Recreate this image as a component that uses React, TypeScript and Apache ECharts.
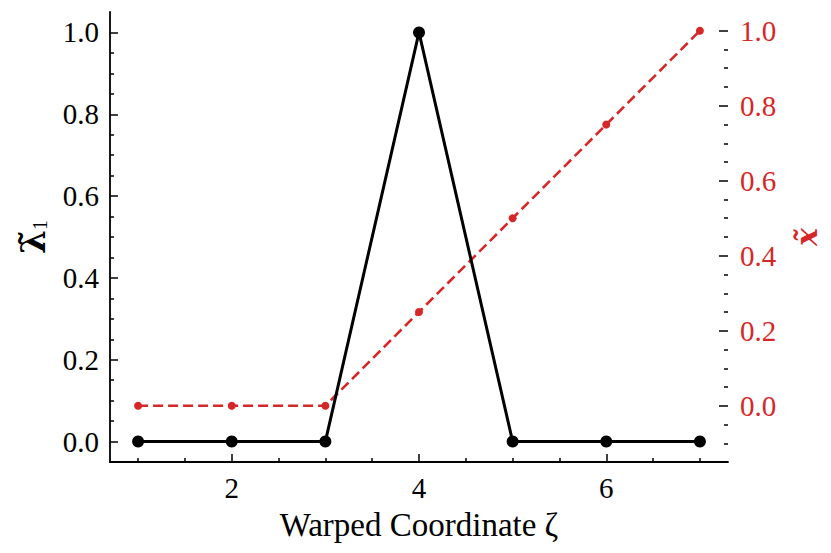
import React, { useEffect, useRef } from "react";
import * as echarts from "echarts";

const xValues = [1, 2, 3, 4, 5, 6, 7];
const lambdaValues = [0, 0, 0, 1, 0, 0, 0];
const xTildeValues = [0, 0, 0, 0.25, 0.5, 0.75, 1.0];

const xMajorTicks = [2, 4, 6];
const xMinorTicks = [1, 1.5, 2.5, 3, 3.5, 4.5, 5, 5.5, 6.5, 7];
const leftMajorTicks = [0, 0.2, 0.4, 0.6, 0.8, 1.0];
const leftMinorTicks = [0.05, 0.1, 0.15, 0.25, 0.3, 0.35, 0.45, 0.5, 0.55, 0.65, 0.7, 0.75, 0.85, 0.9, 0.95];
const rightMajorTicks = [0, 0.2, 0.4, 0.6, 0.8, 1.0];
const rightMinorTicks = [-0.1, -0.05, 0.05, 0.1, 0.15, 0.25, 0.3, 0.35, 0.45, 0.5, 0.55, 0.65, 0.7, 0.75, 0.85, 0.9, 0.95];

const RED = "#d62728";
const FONT = "Liberation Serif";

export default function App() {
  const ref = useRef<HTMLDivElement>(null);
  useEffect(() => {
    if (!ref.current) return;
    const chart = echarts.init(ref.current, null, { renderer: "svg" });
    const tickStyle = { color: "#000", width: 1.5 };
    const labelRich = (color: string) => ({
      t: { fontFamily: FONT, fontSize: 29, color },
    });
    const option: any = {
      animation: false,
      backgroundColor: "#fff",
      textStyle: { fontFamily: FONT },
      grid: { left: 110, right: 103, top: 12, bottom: 91, containLabel: false },
      xAxis: [
        {
          type: "value",
          min: 0.7,
          max: 7.3,
          position: "bottom",
          axisLine: { show: true, onZero: false, lineStyle: { color: "#000", width: 1.8 } },
          axisTick: { show: true, inside: true, length: 8, customValues: xMajorTicks, lineStyle: tickStyle },
          axisLabel: {
            customValues: xMajorTicks,
            formatter: (v: number) => "{t|" + String(v) + "}",
            rich: labelRich("#000"),
            color: "#000",
            fontFamily: FONT,
            fontSize: 29,
            margin: 11,
          },
          splitLine: { show: false },
          name: "{t|Warped Coordinate ζ}",
          nameLocation: "middle",
          nameGap: 46,
          nameTextStyle: {
            fontFamily: FONT,
            fontSize: 33,
            color: "#000",
            rich: { t: { fontFamily: FONT, fontSize: 33, color: "#000" } },
          },
        },
        {
          type: "value",
          min: 0.7,
          max: 7.3,
          position: "bottom",
          axisLine: { show: false, onZero: false },
          axisTick: { show: true, inside: true, length: 4, customValues: xMinorTicks, lineStyle: tickStyle },
          axisLabel: { show: false },
          splitLine: { show: false },
        },
      ],
      yAxis: [
        {
          type: "value",
          min: -0.05,
          max: 1.05,
          position: "left",
          axisLine: { show: true, onZero: false, lineStyle: { color: "#000", width: 1.8 } },
          axisTick: { show: true, inside: true, length: 8, customValues: leftMajorTicks, lineStyle: tickStyle },
          axisLabel: {
            customValues: leftMajorTicks,
            formatter: (v: number) => "{t|" + v.toFixed(1) + "}",
            rich: labelRich("#000"),
            color: "#000",
            fontFamily: FONT,
            fontSize: 29,
            margin: 11,
          },
          splitLine: { show: false },
          name: "{b|λ̃}{s|1}",
          nameLocation: "middle",
          nameRotate: 90,
          nameGap: 60,
          nameTextStyle: {
            rich: {
              b: { fontFamily: "DejaVu Serif", fontWeight: "bold", fontSize: 34, color: "#000" },
              s: { fontFamily: FONT, fontSize: 20, color: "#000", verticalAlign: "bottom", padding: [14, 0, 0, 0] },
            },
          },
        },
        {
          type: "value",
          min: -0.05,
          max: 1.05,
          position: "left",
          axisLine: { show: false, onZero: false },
          axisTick: { show: true, inside: true, length: 4, customValues: leftMinorTicks, lineStyle: tickStyle },
          axisLabel: { show: false },
          splitLine: { show: false },
        },
        {
          type: "value",
          min: -0.15,
          max: 1.05,
          position: "right",
          axisLine: { show: false, onZero: false },
          axisTick: { show: true, inside: true, length: 9, customValues: rightMajorTicks, lineStyle: tickStyle },
          axisLabel: {
            customValues: rightMajorTicks,
            formatter: (v: number) => "{t|" + v.toFixed(1) + "}",
            rich: labelRich(RED),
            color: RED,
            fontFamily: FONT,
            fontSize: 29,
            margin: 12,
          },
          splitLine: { show: false },
          name: "{x|x̃}",
          nameLocation: "middle",
          nameRotate: 90,
          nameGap: 63,
          nameTextStyle: {
            rich: { x: { fontFamily: "DejaVu Serif", fontWeight: "bold", fontStyle: "italic", fontSize: 30, color: RED } },
          },
        },
        {
          type: "value",
          min: -0.15,
          max: 1.05,
          position: "right",
          axisLine: { show: false, onZero: false },
          axisTick: { show: true, inside: true, length: 4, customValues: rightMinorTicks, lineStyle: tickStyle },
          axisLabel: { show: false },
          splitLine: { show: false },
        },
      ],
      series: [
        {
          type: "line",
          xAxisIndex: 0,
          yAxisIndex: 2,
          data: xValues.map((x, i) => [x, xTildeValues[i]]),
          lineStyle: { color: RED, width: 2.6, type: [10, 5] },
          itemStyle: { color: RED },
          symbol: "circle",
          symbolSize: 8,
          z: 2,
        },
        {
          type: "line",
          xAxisIndex: 0,
          yAxisIndex: 0,
          data: xValues.map((x, i) => [x, lambdaValues[i]]),
          lineStyle: { color: "#000", width: 3 },
          itemStyle: { color: "#000" },
          symbol: "circle",
          symbolSize: 12,
          z: 3,
        },
      ],
    };
    chart.setOption(option);
    return () => chart.dispose();
  }, []);
  return (
    <div
      ref={ref}
      style={{ position: "fixed", left: 0, top: 0, width: 831, height: 553, background: "#fff" }}
    />
  );
}
